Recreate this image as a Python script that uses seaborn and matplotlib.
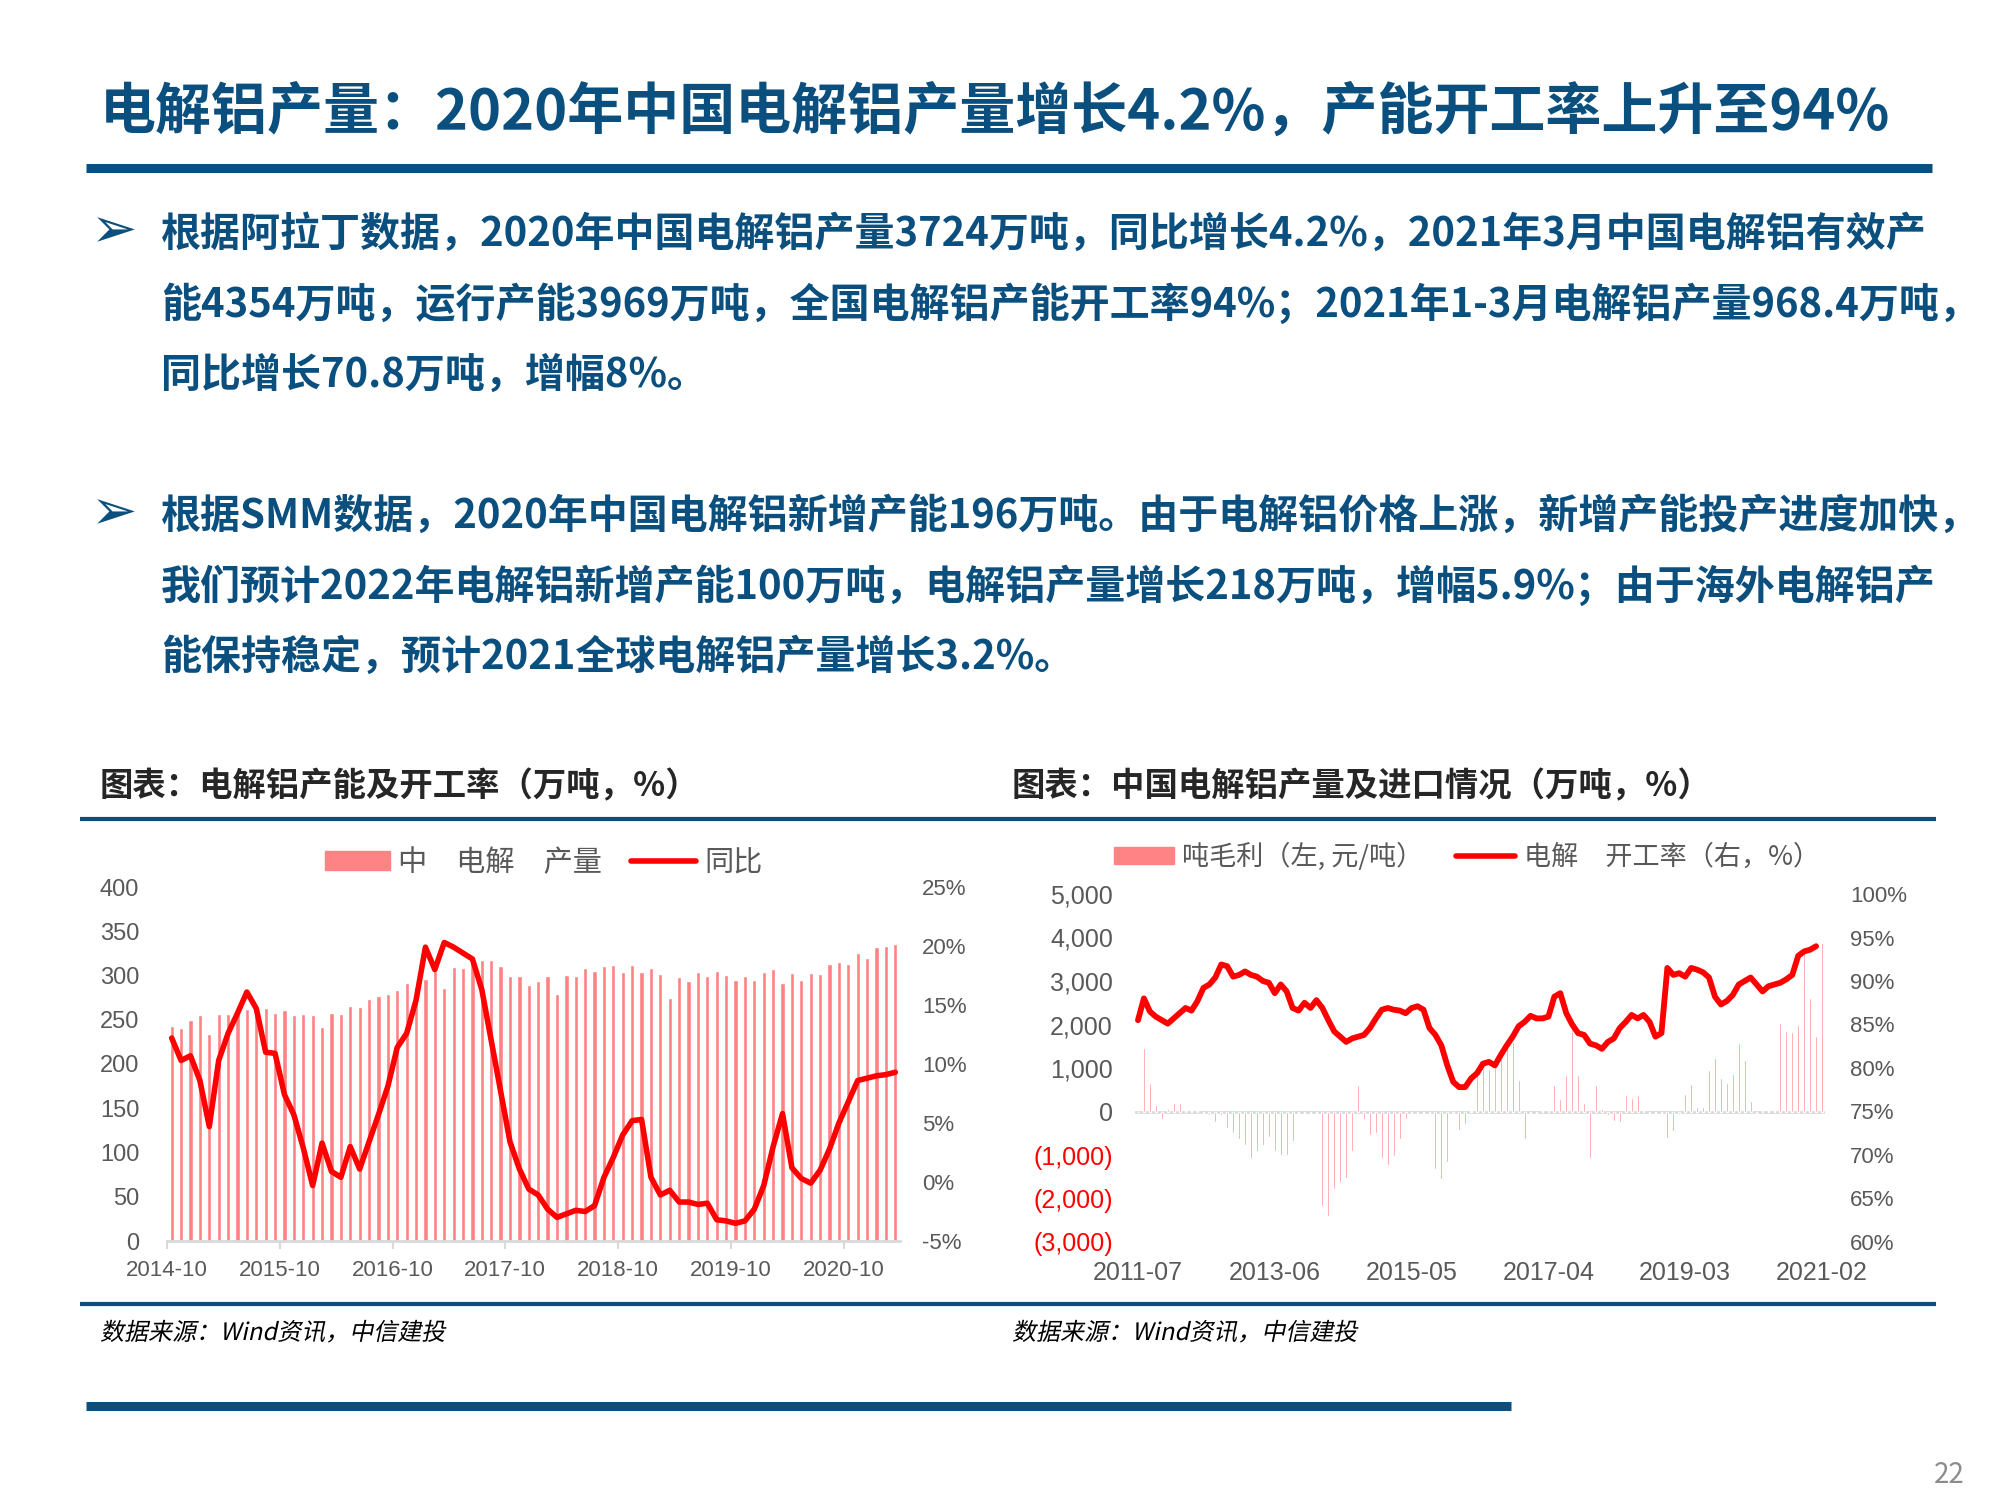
import numpy as np
import pandas as pd
import seaborn as sns
import matplotlib.pyplot as plt
from matplotlib.lines import Line2D
from matplotlib.patches import Patch, PathPatch
from matplotlib.textpath import TextPath
from matplotlib.font_manager import FontProperties
from matplotlib.transforms import Affine2D, IdentityTransform

# 数据：左图 电解铝产量(万吨) 及同比(%)，2014-10 ~ 2021-03 月度
left_months = [str(p) for p in pd.period_range("2014-10", periods=78, freq="M")]
left_output = [243, 241, 250, 255, 234, 256, 256, 262, 262, 264,
               263, 258, 261, 255, 256, 255, 242, 258, 257, 266,
               264, 273, 277, 279, 284, 292, 287, 296, 305, 286,
               310, 308, 318, 317, 317, 311, 299, 300, 289, 294,
               300, 279, 301, 299, 309, 305, 311, 312, 304, 312,
               304, 309, 302, 275, 298, 294, 304, 300, 305, 301,
               295, 300, 295, 304, 307, 292, 303, 295, 303, 302,
               313, 315, 313, 325, 320, 332, 333, 336]
left_yoy = [12.2, 10.3, 10.7, 8.6, 4.7, 10.3, 12.6, 14.3, 16.1, 14.7,
            11.0, 10.9, 7.4, 5.7, 2.9, -0.3, 3.3, 0.9, 0.4, 3.0,
            1.1, 3.4, 5.7, 8.1, 11.4, 12.6, 15.4, 19.9, 18.0, 20.3,
            19.9, 19.4, 18.9, 16.3, 12.0, 7.7, 3.4, 1.1, -0.6, -1.1,
            -2.3, -3.0, -2.7, -2.4, -2.5, -2.0, 0.4, 2.1, 4.0, 5.2,
            5.3, 0.4, -1.1, -0.7, -1.7, -1.7, -1.9, -1.8, -3.2, -3.3,
            -3.5, -3.3, -2.3, -0.3, 3.0, 5.8, 1.2, 0.3, -0.1, 1.0,
            2.8, 5.0, 6.8, 8.6, 8.8, 9.0, 9.1, 9.3]
left_tick_labels = ["2014-10", "2015-10", "2016-10", "2017-10", "2018-10", "2019-10", "2020-10"]

# 数据：右图 吨毛利(元/吨) 及开工率(%)，2011-07 ~ 2021-02 月度
right_months = [str(p) for p in pd.period_range("2011-07", periods=116, freq="M")]
right_profit = [0, 1450, 660, 140, -170, 60, 200, 200, 290, 200,
                100, -285, -80, -230, -90, -390, -490, -630, -770, -1060,
                -900, -770, -590, -900, -1000, -1000, -670, -830, -1020, -1210,
                -1900, -2180, -2410, -1790, -1620, -1520, -900, 600, -170, -540,
                -490, -1060, -1230, -1020, -630, -170, -630, -900, -1170, -1370,
                -1330, -1560, -1170, -50, -420, -290, 20, 830, 990, 970,
                1140, 1300, 1530, 1600, 720, -630, -290, -210, 180, 990,
                600, 280, 830, 1910, 830, 200, -1060, 600, 60, -80,
                -210, -250, 370, 310, 370, 290, -320, -360, -860, -620,
                -440, -50, 410, 640, 100, 100, 950, 1220, 760, 660,
                870, 1570, 1180, 250, -1100, 490, 1100, 1640, 2030, 1850,
                1820, 1980, 3610, 2620, 1740, 3880]
right_rate = [85.5, 88.0, 86.5, 85.9, 85.5, 85.1, 85.7, 86.3, 86.9, 86.6,
              87.7, 89.2, 89.6, 90.4, 91.9, 91.7, 90.5, 90.7, 91.1, 90.7,
              90.5, 90.0, 89.8, 88.6, 89.6, 88.8, 86.9, 86.6, 87.5, 86.9,
              87.8, 86.9, 85.5, 84.2, 83.6, 83.0, 83.4, 83.6, 83.8, 84.6,
              85.7, 86.7, 86.9, 86.7, 86.6, 86.3, 86.9, 87.1, 86.7, 84.6,
              83.8, 82.6, 80.3, 78.4, 77.8, 77.8, 78.8, 79.4, 80.5, 80.7,
              80.3, 81.5, 82.6, 83.6, 84.8, 85.3, 86.0, 85.7, 85.7, 85.9,
              88.2, 88.6, 86.3, 85.0, 84.0, 83.8, 82.8, 82.6, 82.2, 83.0,
              83.4, 84.6, 85.3, 86.1, 85.7, 86.1, 85.3, 83.6, 84.0, 91.5,
              90.7, 90.9, 90.5, 91.5, 91.3, 91.0, 90.4, 88.2, 87.3, 87.7,
              88.4, 89.6, 90.0, 90.4, 89.6, 88.8, 89.4, 89.6, 89.8, 90.2,
              90.7, 92.9, 93.4, 93.6, 94.0, np.nan]
right_tick_labels = ["2011-07", "2013-06", "2015-05", "2017-04", "2019-03", "2021-02"]

title = "电解铝产量：2020年中国电解铝产量增长4.2%，产能开工率上升至94%"
bullet1 = ["根据阿拉丁数据，2020年中国电解铝产量3724万吨，同比增长4.2%，2021年3月中国电解铝有效产",
           "能4354万吨，运行产能3969万吨，全国电解铝产能开工率94%；2021年1-3月电解铝产量968.4万吨，",
           "同比增长70.8万吨，增幅8%。"]
bullet2 = ["根据SMM数据，2020年中国电解铝新增产能196万吨。由于电解铝价格上涨，新增产能投产进度加快，",
           "我们预计2022年电解铝新增产能100万吨，电解铝产量增长218万吨，增幅5.9%；由于海外电解铝产",
           "能保持稳定，预计2021全球电解铝产量增长3.2%。"]
source = "数据来源：Wind资讯，中信建投"

BLUE = "#0A4F7E"
PINK = "#FF8284"
RED = "#FF0000"
GREY = "#595959"

sns.set_theme(style="white")
plt.rcParams["font.family"] = ["Noto Sans CJK SC", "DejaVu Sans"]

W, H = 2000, 1500
fig = plt.figure(figsize=(20, 15), dpi=100)


def fx(x):
    return x / W


def fy(y):
    return 1 - y / H


def hline(x0, x1, y, lw):
    fig.add_artist(Line2D([fx(x0), fx(x1)], [fy(y), fy(y)], lw=lw, color=BLUE, solid_capstyle="butt"))


# 标题和正文
fig.text(fx(100), fy(113), title, fontsize=40.3, weight="bold", color=BLUE, va="center")
hline(86, 1932, 168, 6.5)

for lines, y0 in [(bullet1, 234), (bullet2, 516)]:
    fig.text(fx(114), fy(y0 - 2), "➢", fontsize=40, color=BLUE, va="center", ha="center",
             family=["DejaVu Sans"])
    for k, s in enumerate(lines):
        fig.text(fx(161), fy(y0 + 70.7 * k), s, fontsize=28.8, weight="bold", color=BLUE, va="center")

fig.text(fx(100), fy(787), "图表：电解铝产能及开工率（万吨，%）", fontsize=24, weight="bold", va="center")
fig.text(fx(1012), fy(787), "图表：中国电解铝产量及进口情况（万吨，%）", fontsize=24, weight="bold", va="center")
hline(80, 1936, 819, 3)
hline(80, 1936, 1304, 3)

# 斜体的数据来源（中文字体没有斜体，用倾斜的文字路径）
src_path = TextPath((0, 0), source, size=24, prop=FontProperties(family="Noto Sans CJK SC"))
for xs in (100, 1012):
    tr = Affine2D().skew_deg(12, 0).translate(xs, H - 1331 - 9)
    fig.add_artist(PathPatch(src_path, transform=tr + IdentityTransform(), color="black", lw=0))

hline(86, 1511, 1406, 6.5)
fig.text(fx(1949), fy(1475), "22", fontsize=20, color="#8C8C8C", ha="center", va="center")

# 左图
ax1 = fig.add_axes([fx(167), fy(1241), (900 - 167) / W, (1241 - 887) / H])
sns.barplot(x=left_months, y=left_output, ax=ax1, color=PINK, saturation=1, width=0.45)
ax2 = ax1.twinx()
sns.lineplot(x=np.arange(len(left_yoy)), y=left_yoy, ax=ax2, color=RED, lw=4.0)

ax1.set_xlim(-0.5, len(left_months) - 0.5)
ax1.set_ylim(0, 400)
ax1.set_yticks(range(0, 401, 50))
ax1.set_xticks([i - 0.5 for i in range(0, len(left_months), 12)])
ax1.set_xticklabels(left_tick_labels)
ax2.set_ylim(-5, 25)
ax2.set_yticks(range(-5, 26, 5))
ax2.set_yticklabels([f"{v}%" for v in range(-5, 26, 5)])
for a in (ax1, ax2):
    a.set_xlabel("")
    a.set_ylabel("")
    for sp in a.spines.values():
        sp.set_visible(False)
ax1.spines["bottom"].set_visible(True)
ax1.spines["bottom"].set_color("#D9D9D9")
ax1.spines["bottom"].set_linewidth(2)
ax1.tick_params(axis="y", length=0, pad=20, labelsize=17, labelcolor=GREY, labelfontfamily="Liberation Sans")
ax1.tick_params(axis="x", length=6, width=1.5, color="#D9D9D9", direction="out", bottom=True, pad=8,
                labelsize=16, labelcolor=GREY, labelfontfamily="Liberation Sans")
ax2.tick_params(axis="y", length=0, pad=16, labelsize=16, labelcolor=GREY, labelfontfamily="Liberation Sans")

fig.legend([Patch(color=PINK), Line2D([], [], color=RED, lw=4)], ["中　电解　产量", "同比"],
           loc="center", bbox_to_anchor=(fx(544), fy(863)), ncol=2, frameon=False, fontsize=21,
           labelcolor=GREY, handlelength=2.2, handleheight=0.6, columnspacing=1.0, handletextpad=0.3)

# 右图
ax3 = fig.add_axes([fx(1135), fy(1242), (1825 - 1135) / W, (1242 - 894) / H])
sns.barplot(x=right_months, y=right_profit, ax=ax3, color=PINK, saturation=1, width=0.3)
ax3.axhline(0, color="#D9D9D9", lw=2, zorder=0)
ax4 = ax3.twinx()
sns.lineplot(x=np.arange(len(right_rate)), y=right_rate, ax=ax4, color=RED, lw=4.2)

ax3.set_xlim(-0.5, len(right_months) - 0.5)
ax3.set_ylim(-3000, 5000)
yt = list(range(-3000, 5001, 1000))
ax3.set_yticks(yt)
ax3.set_yticklabels([f"{v:,}" if v >= 0 else f"({-v:,})" for v in yt])
ax3.set_xticks(range(0, len(right_months), 23))
ax3.set_xticklabels(right_tick_labels)
ax4.set_ylim(60, 100)
ax4.set_yticks(range(60, 101, 5))
ax4.set_yticklabels([f"{v}%" for v in range(60, 101, 5)])
for a in (ax3, ax4):
    a.set_xlabel("")
    a.set_ylabel("")
    for sp in a.spines.values():
        sp.set_visible(False)
ax3.tick_params(axis="y", length=0, pad=16, labelsize=18, labelfontfamily="Liberation Sans")
for lab in ax3.get_yticklabels():
    lab.set_color(RED if lab.get_text().startswith("(") else GREY)
ax3.tick_params(axis="x", length=0, pad=14, labelsize=18, labelcolor=GREY, labelfontfamily="Liberation Sans")
ax4.tick_params(axis="y", length=0, pad=18, labelsize=16, labelcolor=GREY, labelfontfamily="Liberation Sans")

fig.legend([Patch(color=PINK), Line2D([], [], color=RED, lw=4)],
           ["吨毛利（左, 元/吨）", "电解　开工率（右，%）"],
           loc="center", bbox_to_anchor=(fx(1467), fy(857)), ncol=2, frameon=False, fontsize=19.5,
           labelcolor=GREY, handlelength=2.2, handleheight=0.6, columnspacing=1.2, handletextpad=0.3)

fig.savefig("out.png", dpi=100, facecolor="white")
